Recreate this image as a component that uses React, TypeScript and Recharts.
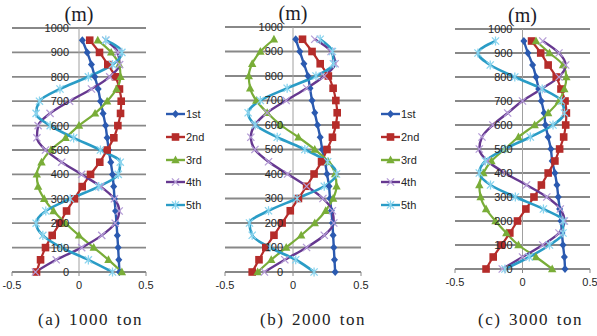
import React from "react";
import {
  LineChart,
  Line,
  XAxis,
  YAxis,
  CartesianGrid,
  ReferenceLine,
  ReferenceDot,
  Legend,
} from "recharts";

// depth of each point (m)
const heights = [0, 50, 100, 150, 200, 250, 300, 350, 400, 450, 500, 550, 600, 650, 700, 750, 800, 850, 900, 950];
const depthTicks = [0, 100, 200, 300, 400, 500, 600, 700, 800, 900, 1000];
const xTicks = [-0.5, 0, 0.5];
const seriesNames = ["1st", "2nd", "3rd", "4th", "5th"];
const captions = ["(a) 1000 ton", "(b) 2000 ton", "(c) 3000 ton"];

// (a) 1000 ton
const a1 = [0.302, 0.297, 0.292, 0.286, 0.28, 0.273, 0.265, 0.259, 0.25, 0.237, 0.222, 0.21, 0.198, 0.18, 0.16, 0.143, 0.118, 0.093, 0.061, 0.025];
const a2 = [-0.317, -0.287, -0.25, -0.2, -0.143, -0.093, -0.034, 0.024, 0.086, 0.155, 0.21, 0.26, 0.29, 0.31, 0.315, 0.302, 0.272, 0.215, 0.153, 0.08];
const a3 = [0.32, 0.22, 0.11, 0.0, -0.1, -0.19, -0.26, -0.305, -0.315, -0.28, -0.21, -0.1, 0.0, 0.12, 0.21, 0.28, 0.31, 0.3, 0.24, 0.14];
const a4 = [-0.325, -0.17, 0.02, 0.17, 0.27, 0.3, 0.264, 0.162, 0.02, -0.129, -0.25, -0.314, -0.305, -0.216, -0.07, 0.093, 0.229, 0.303, 0.29, 0.2];
const a5 = [0.25, 0.07, -0.13, -0.27, -0.32, -0.248, -0.065, 0.147, 0.293, 0.308, 0.16, -0.04, -0.215, -0.32, -0.295, -0.142, 0.07, 0.25, 0.32, 0.2];

// (b) 2000 ton
const b1 = [0.31, 0.305, 0.3, 0.295, 0.29, 0.282, 0.272, 0.265, 0.25, 0.235, 0.215, 0.2, 0.18, 0.16, 0.14, 0.125, 0.11, 0.08, 0.05, 0.02];
const b2 = [-0.3, -0.25, -0.2, -0.14, -0.08, -0.02, 0.04, 0.1, 0.155, 0.21, 0.25, 0.29, 0.315, 0.325, 0.315, 0.295, 0.26, 0.2, 0.14, 0.07];
const b3 = [-0.26, -0.16, -0.05, 0.06, 0.16, 0.24, 0.295, 0.32, 0.31, 0.26, 0.16, 0.04, -0.09, -0.19, -0.27, -0.315, -0.325, -0.3, -0.24, -0.14];
const b4 = [-0.21, -0.06, 0.1, 0.23, 0.3, 0.29, 0.22, 0.1, -0.04, -0.18, -0.28, -0.31, -0.28, -0.19, -0.05, 0.1, 0.23, 0.31, 0.28, 0.16];
const b5 = [0.155, 0.02, -0.17, -0.3, -0.32, -0.18, 0.03, 0.23, 0.32, 0.255, 0.087, -0.116, -0.278, -0.33, -0.24, -0.043, 0.169, 0.297, 0.29, 0.2];

// (c) 3000 ton
const c1 = [0.315, 0.31, 0.3, 0.292, 0.285, 0.275, 0.265, 0.255, 0.24, 0.22, 0.21, 0.19, 0.17, 0.16, 0.14, 0.12, 0.1, 0.075, 0.04, 0.01];
const c2 = [-0.27, -0.217, -0.155, -0.094, -0.037, 0.025, 0.085, 0.14, 0.19, 0.24, 0.275, 0.305, 0.32, 0.325, 0.315, 0.285, 0.25, 0.19, 0.135, 0.067];
const c3 = [0.22, 0.1, -0.03, -0.12, -0.2, -0.27, -0.31, -0.32, -0.29, -0.23, -0.13, -0.03, 0.09, 0.19, 0.27, 0.31, 0.325, 0.3, 0.2, 0.1];
const c4 = [-0.15, 0.0, 0.15, 0.27, 0.31, 0.28, 0.18, 0.03, -0.13, -0.26, -0.32, -0.3, -0.22, -0.11, 0.0, 0.14, 0.27, 0.32, 0.27, 0.15];
const c5 = [-0.13, 0.05, 0.2, 0.3, 0.3, 0.155, -0.053, -0.237, -0.32, -0.275, -0.131, 0.058, 0.226, 0.31, 0.288, 0.146, -0.057, -0.239, -0.33, -0.2];

const seriesStyle = [
  { key: "s1", line: "#2B5AB0", marker: "#2B5AB0", shape: "diamond", width: 2.4 },
  { key: "s2", line: "#B52C2A", marker: "#B52C2A", shape: "square", width: 2.2 },
  { key: "s3", line: "#79AD38", marker: "#79AD38", shape: "triangle", width: 2.2 },
  { key: "s4", line: "#663890", marker: "#B49CD6", shape: "cross", width: 2.4 },
  { key: "s5", line: "#2A9CC6", marker: "#8AD4EE", shape: "star", width: 2.6 },
];

const numFont = "'Liberation Sans Narrow', 'Liberation Sans', Arial, sans-serif";
const gridColor = "#888888";

function buildRows(series: number[][]) {
  return heights.map((h, i) => {
    const row: Record<string, number> = { h };
    series.forEach((s, k) => {
      row[`s${k + 1}`] = s[i];
    });
    return row;
  });
}

function Marker({ cx, cy, shape, color }: any) {
  if (typeof cx !== "number" || typeof cy !== "number") return null;
  if (shape === "diamond")
    return <path d={`M${cx},${cy - 4}L${cx + 3.5},${cy}L${cx},${cy + 4}L${cx - 3.5},${cy}Z`} fill={color} />;
  if (shape === "square")
    return <rect x={cx - 3.8} y={cy - 3.8} width={7.6} height={7.6} fill={color} />;
  if (shape === "triangle")
    return <path d={`M${cx},${cy - 4.5}L${cx + 4.2},${cy + 3.2}L${cx - 4.2},${cy + 3.2}Z`} fill={color} />;
  if (shape === "cross")
    return (
      <path
        d={`M${cx - 3.6},${cy - 3.6}L${cx + 3.6},${cy + 3.6}M${cx + 3.6},${cy - 3.6}L${cx - 3.6},${cy + 3.6}`}
        stroke={color}
        strokeWidth={1.3}
      />
    );
  return (
    <path
      d={`M${cx - 3.6},${cy - 3.6}L${cx + 3.6},${cy + 3.6}M${cx + 3.6},${cy - 3.6}L${cx - 3.6},${cy + 3.6}M${cx},${cy - 4.6}L${cx},${cy + 4.6}`}
      stroke={color}
      strokeWidth={1.3}
    />
  );
}

function LegendBox({ payload }: any) {
  return (
    <div style={{ width: 48 }}>
      {(payload || []).map((p: any) => {
        const st = seriesStyle.find((s) => s.key === p.dataKey) || seriesStyle[0];
        return (
          <div key={p.dataKey} style={{ height: 22.7, display: "flex", alignItems: "center" }}>
            <svg width={19} height={12} style={{ overflow: "visible" }}>
              <line x1={0} y1={6} x2={19} y2={6} stroke={st.line} strokeWidth={2.4} />
              <Marker cx={9.5} cy={6} shape={st.shape} color={st.marker} />
            </svg>
            <span style={{ marginLeft: 1, fontSize: 11, fontFamily: numFont, color: "#262626" }}>{p.value}</span>
          </div>
        );
      })}
    </div>
  );
}

interface PanelProps {
  series: number[][];
  left: number;
  width: number;
  margin: { top: number; left: number; right: number; bottom: number };
  axisHeight: number;
  legend?: boolean;
}

function Panel({ series, left, width, margin, axisHeight, legend }: PanelProps) {
  const rows = buildRows(series);
  return (
    <div style={{ position: "absolute", left, top: 0 }}>
      <LineChart width={width} height={336} data={rows} layout="vertical" margin={margin}>
        <CartesianGrid vertical={false} stroke={gridColor} strokeWidth={1.8} />
        <XAxis
          type="number"
          domain={[-0.5, 0.5]}
          ticks={xTicks}
          height={axisHeight}
          tickSize={4}
          tickMargin={5}
          stroke={gridColor}
          tick={{ fontSize: 11, fontFamily: numFont, fill: "#262626" }}
        />
        <YAxis type="number" dataKey="h" domain={[0, 1000]} ticks={depthTicks} reversed hide />
        <ReferenceLine
          x={0}
          stroke="#a0a0a0"
          strokeWidth={1}
          label={{ value: "(m)", position: "top", offset: 7, fontSize: 20, fontFamily: "'Liberation Serif', serif", fill: "#1c1c2a" }}
        />
        {depthTicks.map((t) => (
          <ReferenceDot
            key={t}
            x={0}
            y={t}
            r={0}
            fill="none"
            stroke="none"
            label={{ value: String(t), position: "left", offset: 10, fontSize: 11, fontFamily: numFont, fill: "#262626" }}
          />
        ))}
        {seriesStyle.map((st, k) => (
          <Line
            key={st.key}
            dataKey={st.key}
            name={seriesNames[k]}
            type="monotone"
            stroke={st.line}
            strokeWidth={st.width}
            isAnimationActive={false}
            activeDot={false}
            dot={(p: any) => <Marker key={`${st.key}-${p.index}`} cx={p.cx} cy={p.cy} shape={st.shape} color={st.marker} />}
          />
        ))}
        {legend && (
          <Legend
            layout="vertical"
            align="center"
            verticalAlign="middle"
            content={<LegendBox />}
            wrapperStyle={{ left: 166, top: 103, width: 48 }}
          />
        )}
      </LineChart>
    </div>
  );
}

export default function App() {
  return (
    <div style={{ position: "fixed", left: 0, top: 0, width: 597, height: 336, background: "#fff", overflow: "hidden" }}>
      <Panel
        series={[a1, a2, a3, a4, a5]}
        left={0}
        width={215}
        margin={{ top: 28, left: 12, right: 69, bottom: 0 }}
        axisHeight={64}
        legend
      />
      <Panel
        series={[b1, b2, b3, b4, b5]}
        left={215}
        width={215}
        margin={{ top: 27, left: 10, right: 69, bottom: 0 }}
        axisHeight={64}
        legend
      />
      <Panel
        series={[c1, c2, c3, c4, c5]}
        left={430}
        width={167}
        margin={{ top: 29, left: 25, right: 7, bottom: 0 }}
        axisHeight={67}
      />
      <svg width={597} height={336} style={{ position: "absolute", left: 0, top: 0, pointerEvents: "none" }}>
        {captions.map((c, i) => (
          <text
            key={c}
            x={[38, 260, 478][i]}
            y={325}
            fontSize={17}
            fontFamily="'Liberation Serif', serif"
            letterSpacing={1.5}
            wordSpacing={2}
            fill="#222"
          >
            {c}
          </text>
        ))}
      </svg>
    </div>
  );
}
